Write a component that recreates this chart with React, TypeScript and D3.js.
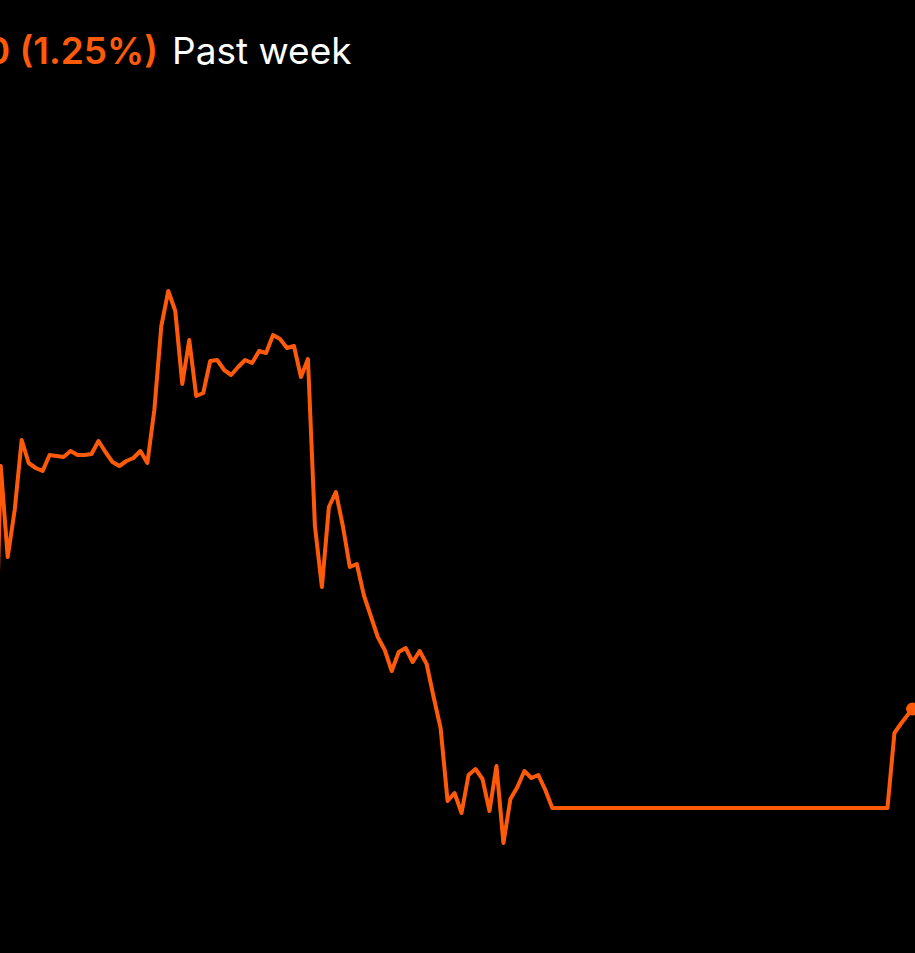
import React, { useEffect } from "react";
import * as d3 from "d3";

// Price values (arbitrary units), one per regular time step
const prices: number[] = [
  26.0, 53.4, 44.3, 49.0, 56.0, 53.7, 53.2, 52.9, 54.5, 54.4,
  54.3, 54.9, 54.5, 54.5, 54.6, 55.9, 54.8, 53.8, 53.4, 53.9,
  54.2, 54.9, 53.7, 59.0, 67.4, 70.9, 68.9, 61.6, 66.0, 60.4,
  60.7, 63.9, 64.0, 63.0, 62.5, 63.3, 64.0, 63.7, 64.9, 64.7,
  66.5, 66.1, 65.2, 65.4, 62.3, 64.1, 47.4, 41.3, 49.3, 50.8,
  47.4, 43.3, 43.6, 40.5, 38.4, 36.3, 35.0, 32.9, 34.8, 35.2,
  33.8, 34.9, 33.6, 30.3, 27.2, 19.9, 20.7, 18.7, 22.5, 23.1,
  22.1, 18.9, 23.4, 15.7, 20.1, 21.3, 22.9, 22.2, 22.5, 21.0,
  19.2, 19.2, 19.2, 19.2, 19.2, 19.2, 19.2, 19.2, 19.2, 19.2,
  19.2, 19.2, 19.2, 19.2, 19.2, 19.2, 19.2, 19.2, 19.2, 19.2,
  19.2, 19.2, 19.2, 19.2, 19.2, 19.2, 19.2, 19.2, 19.2, 19.2,
  19.2, 19.2, 19.2, 19.2, 19.2, 19.2, 19.2, 19.2, 19.2, 19.2,
  19.2, 19.2, 19.2, 19.2, 19.2, 19.2, 19.2, 19.2, 19.2, 26.7,
  27.7, 28.6,
];
// The latest (live) quote, a fraction of a step after the last regular point
const lastStep = 131.6;
const lastPrice = 29.1;

const changeLabel = "0 (1.25%)";
const periodLabel = "Past week";

const W = 915;
const H = 953;
const ORANGE = "#ff5a0a";

export default function App() {
  useEffect(() => {
    document.body.style.margin = "0";
    document.body.style.background = "#000";
  }, []);

  const points: [number, number][] = prices.map((p, i) => [i, p]);
  points.push([lastStep, lastPrice]);

  const x = d3.scaleLinear().domain([0, 131]).range([-6.25, 908.4]);
  const y = d3.scaleLinear().domain([0, 100]).range([1000, 0]);

  const line = d3
    .line<[number, number]>()
    .x((d) => x(d[0]))
    .y((d) => y(d[1]));

  return (
    <svg
      width={W}
      height={H}
      style={{ position: "fixed", left: 0, top: 0, display: "block", background: "#000" }}
    >
      <rect x={0} y={0} width={W} height={H} fill="#000" />
      <text
        x={158}
        y={64}
        textAnchor="end"
        fontFamily="Inter, 'Noto Sans', sans-serif"
        fontWeight={600}
        fontSize={37}
        fill={ORANGE}
      >
        {changeLabel}
      </text>
      <text
        x={172}
        y={64}
        fontFamily="Inter, 'Noto Sans', sans-serif"
        fontWeight={400}
        fontSize={37}
        fill="#ffffff"
      >
        {periodLabel}
      </text>
      <path
        d={line(points) ?? ""}
        fill="none"
        stroke={ORANGE}
        strokeWidth={4}
        strokeLinejoin="round"
        strokeLinecap="round"
      />
      <circle cx={x(lastStep)} cy={y(lastPrice)} r={6.5} fill={ORANGE} />
    </svg>
  );
}
